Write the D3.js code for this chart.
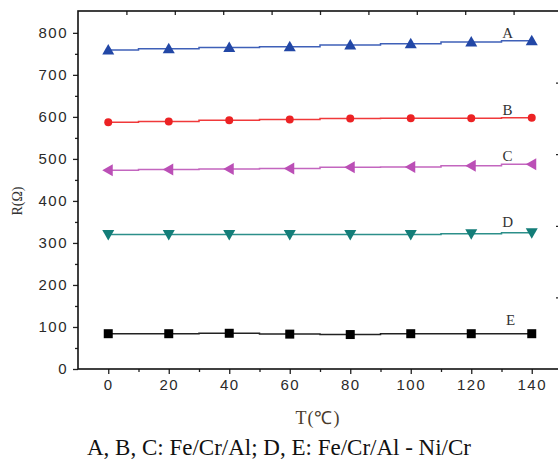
<!DOCTYPE html>
<html lang="en">
<head>
<meta charset="utf-8">
<title>R vs T</title>
<script src="https://d3js.org/d3.v7.min.js"></script>
<style>
  body { margin: 0; background: #fff; }
  svg { display: block; }
  .tick text { font-family: "Liberation Sans", Arial, sans-serif; font-size: 15px; letter-spacing: 1.5px; fill: #2a2a2a; }
  .serif { font-family: "Liberation Serif", "Times New Roman", serif; }
</style>
</head>
<body>
<script>
// data
const temps = [0, 20, 40, 60, 80, 100, 120, 140]
const seriesA = [759, 762, 765, 767, 771, 774, 778, 781]
const seriesB = [587, 589, 592, 594, 596, 597, 597, 598]
const seriesC = [473, 475, 476, 477, 480, 481, 484, 487]
const seriesD = [320, 320, 320, 320, 320, 320, 322, 324]
const seriesE = [84, 84, 85, 83, 82, 84, 84, 84]
const names = ["A", "B", "C", "D", "E"]
const yTicks = [0, 100, 200, 300, 400, 500, 600, 700, 800]
const xTicks = [0, 20, 40, 60, 80, 100, 120, 140]

const width = 558, height = 460
const plot = { left: 78, right: 562, top: 11, bottom: 369 }

const svg = d3.select("body").append("svg")
    .attr("width", width)
    .attr("height", height)

const x = d3.scaleLinear().domain([-10, 150]).range([plot.left, plot.right])
const y = d3.scaleLinear().domain([0, 852]).range([plot.bottom, plot.top])

// bottom axis
svg.append("g")
    .attr("transform", "translate(0," + plot.bottom + ")")
    .call(d3.axisBottom(x).tickValues(d3.range(10, 150, 20)).tickSize(3).tickFormat(""))
    .call(g => g.select(".domain").remove())
svg.append("g")
    .attr("transform", "translate(0," + plot.bottom + ")")
    .call(d3.axisBottom(x).tickValues(xTicks).tickSize(5).tickPadding(5))
    .call(g => g.select(".domain").remove())

// left axis
svg.append("g")
    .attr("transform", "translate(" + plot.left + ",0)")
    .call(d3.axisLeft(y).tickValues(d3.range(50, 850, 100)).tickSize(3).tickFormat(""))
    .call(g => g.select(".domain").remove())
svg.append("g")
    .attr("transform", "translate(" + plot.left + ",0)")
    .call(d3.axisLeft(y).tickValues(yTicks).tickSize(5).tickPadding(5))
    .call(g => g.select(".domain").remove())

// top and right ticks (inward, unlabeled)
const xTop = d3.scaleLinear().domain([0, 10]).range([plot.left, plot.right])
const yRight = d3.scaleLinear().domain([0, 5]).range([plot.bottom, plot.top])
svg.append("g")
    .attr("transform", "translate(0," + plot.top + ")")
    .call(d3.axisBottom(xTop).tickValues(d3.range(1, 10)).tickSize(4).tickFormat(""))
    .call(g => g.select(".domain").remove())
svg.append("g")
    .attr("transform", "translate(" + plot.right + ",0)")
    .call(d3.axisLeft(yRight).tickValues(d3.range(1, 5)).tickSize(6).tickFormat(""))
    .call(g => g.select(".domain").remove())

svg.selectAll(".tick line").attr("stroke", "#222").attr("stroke-width", 1.3)

// frame
svg.append("rect")
    .attr("x", plot.left).attr("y", plot.top)
    .attr("width", plot.right - plot.left).attr("height", plot.bottom - plot.top)
    .attr("fill", "none").attr("stroke", "#111").attr("stroke-width", 1.6)

const series = [
    { name: "A", values: seriesA, line: "#3f60b8", fill: "#2247a6", shape: "up" },
    { name: "B", values: seriesB, line: "#f0393a", fill: "#ec2224", shape: "circle" },
    { name: "C", values: seriesC, line: "#c366bf", fill: "#bb4fb6", shape: "left" },
    { name: "D", values: seriesD, line: "#2c8f8a", fill: "#137d78", shape: "down" },
    { name: "E", values: seriesE, line: "#222", fill: "#000", shape: "square" }
]

const line = d3.line()
    .x(d => x(d.t))
    .y(d => y(d.v))
    .curve(d3.curveStep)

function markerPath(shape) {
    if (shape === "up") return "M0,-6L6,4.5L-6,4.5Z"
    if (shape === "down") return "M0,6L6,-4.5L-6,-4.5Z"
    if (shape === "left") return "M-6,0L4.5,-6L4.5,6Z"
    if (shape === "square") return "M-4.5,-4.5H4.5V4.5H-4.5Z"
    return d3.symbol(d3.symbolCircle, 50)()
}

series.forEach(function (s) {
    const pts = temps.map((t, i) => ({ t: t, v: s.values[i] }))
    svg.append("path")
        .datum(pts)
        .attr("d", line)
        .attr("fill", "none")
        .attr("stroke", s.line)
        .attr("stroke-width", 1.5)
    svg.selectAll(".m" + s.name)
        .data(pts)
        .enter()
        .append("path")
        .attr("transform", d => "translate(" + x(d.t) + "," + y(d.v) + ")")
        .attr("d", markerPath(s.shape))
        .attr("fill", s.fill)
})

// series letters
const letterPos = [[132, 788], [132, 605], [132, 495], [132, 338], [133, 105]]
svg.selectAll(".letter")
    .data(names)
    .enter()
    .append("text")
    .attr("class", "serif")
    .attr("x", (d, i) => x(letterPos[i][0]))
    .attr("y", (d, i) => y(letterPos[i][1]))
    .attr("text-anchor", "middle")
    .attr("font-size", 15)
    .attr("fill", "#333")
    .text(d => d)

// axis titles
svg.append("text")
    .attr("class", "serif")
    .attr("transform", "translate(22,201) rotate(-90)")
    .attr("text-anchor", "middle")
    .attr("font-size", 14)
    .attr("fill", "#333")
    .text("R(Ω)")

svg.append("text")
    .attr("class", "serif")
    .attr("x", 318)
    .attr("y", 424)
    .attr("text-anchor", "middle")
    .attr("font-size", 18)
    .attr("letter-spacing", 1)
    .attr("fill", "#4a3a2a")
    .text("T(℃)")

svg.append("text")
    .attr("class", "serif")
    .attr("x", 279)
    .attr("y", 455)
    .attr("text-anchor", "middle")
    .attr("font-size", 23)
    .attr("fill", "#111")
    .text("A, B, C: Fe/Cr/Al; D, E: Fe/Cr/Al - Ni/Cr")
</script>
</body>
</html>
